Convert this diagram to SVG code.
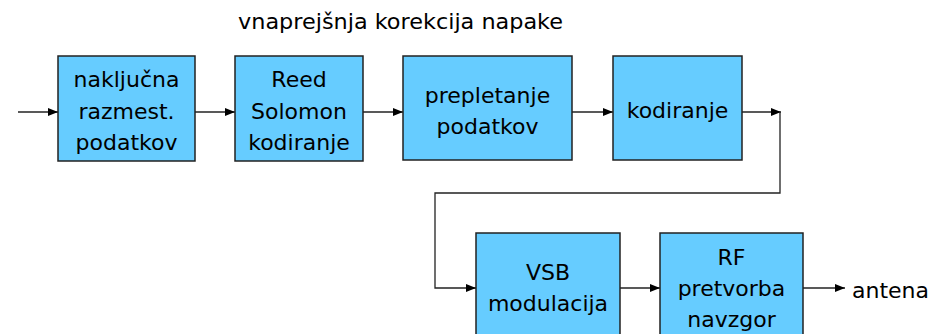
<svg xmlns="http://www.w3.org/2000/svg" width="945" height="334" viewBox="0 0 945 334">
<defs>
<style>
.box{fill:#66CCFF;stroke:#222;stroke-width:1.5}
.t{font-family:"DejaVu Sans",Verdana,sans-serif;font-size:22px;fill:#000;text-anchor:middle}
.ti{font-family:"DejaVu Sans",Verdana,sans-serif;font-size:22px;fill:#000}
.c{fill:none;stroke:#222;stroke-width:1.3}
</style>
<marker id="ah" viewBox="0 0 10 10" refX="10" refY="5" markerWidth="10" markerHeight="10" markerUnits="userSpaceOnUse" orient="auto">
<path d="M0,1 L10,5 L0,9 z" fill="#000"/>
</marker>
</defs>
<rect width="945" height="334" fill="#fff"/>
<text id="title" class="ti" x="238" y="29" textLength="325" lengthAdjust="spacingAndGlyphs">vnaprejšnja korekcija napake</text>
<g id="connectors">
<line class="c" x1="18" y1="112" x2="58" y2="112" marker-end="url(#ah)"/>
<line class="c" x1="195" y1="112" x2="235" y2="112" marker-end="url(#ah)"/>
<line class="c" x1="363" y1="112" x2="403" y2="112" marker-end="url(#ah)"/>
<line class="c" x1="572" y1="112" x2="613" y2="112" marker-end="url(#ah)"/>
<line class="c" x1="742" y1="112" x2="781" y2="112" marker-end="url(#ah)"/>
<polyline class="c" points="780,112 780,193 435,193 435,288 476,288" marker-end="url(#ah)"/>
<line class="c" x1="620" y1="288" x2="660" y2="288" marker-end="url(#ah)"/>
<line class="c" x1="803" y1="288" x2="845" y2="288" marker-end="url(#ah)"/>
</g>
<g id="n1"><rect class="box" x="58" y="56" width="137" height="105"/>
<text class="t" x="126.5" y="87">naključna</text><text class="t" x="126.5" y="118.5">razmest.</text><text class="t" x="126.5" y="150">podatkov</text></g>
<g id="n2"><rect class="box" x="235" y="56" width="128" height="105"/>
<text class="t" x="299" y="87">Reed</text><text class="t" x="299" y="118.5">Solomon</text><text class="t" x="299" y="150">kodiranje</text></g>
<g id="n3"><rect class="box" x="403" y="56" width="169" height="104"/>
<text class="t" x="487.5" y="103">prepletanje</text><text class="t" x="487.5" y="134">podatkov</text></g>
<g id="n4"><rect class="box" x="613" y="56" width="129" height="104"/>
<text class="t" x="677.5" y="118">kodiranje</text></g>
<g id="n5"><rect class="box" x="476" y="233" width="144" height="110"/>
<text class="t" x="548" y="280">VSB</text><text class="t" x="548" y="311">modulacija</text></g>
<g id="n6"><rect class="box" x="660" y="233" width="143" height="110"/>
<text class="t" x="731.5" y="265">RF</text><text class="t" x="731.5" y="296">pretvorba</text><text class="t" x="731.5" y="327">navzgor</text></g>
<text id="antena" class="ti" x="852" y="298">antena</text>
</svg>
